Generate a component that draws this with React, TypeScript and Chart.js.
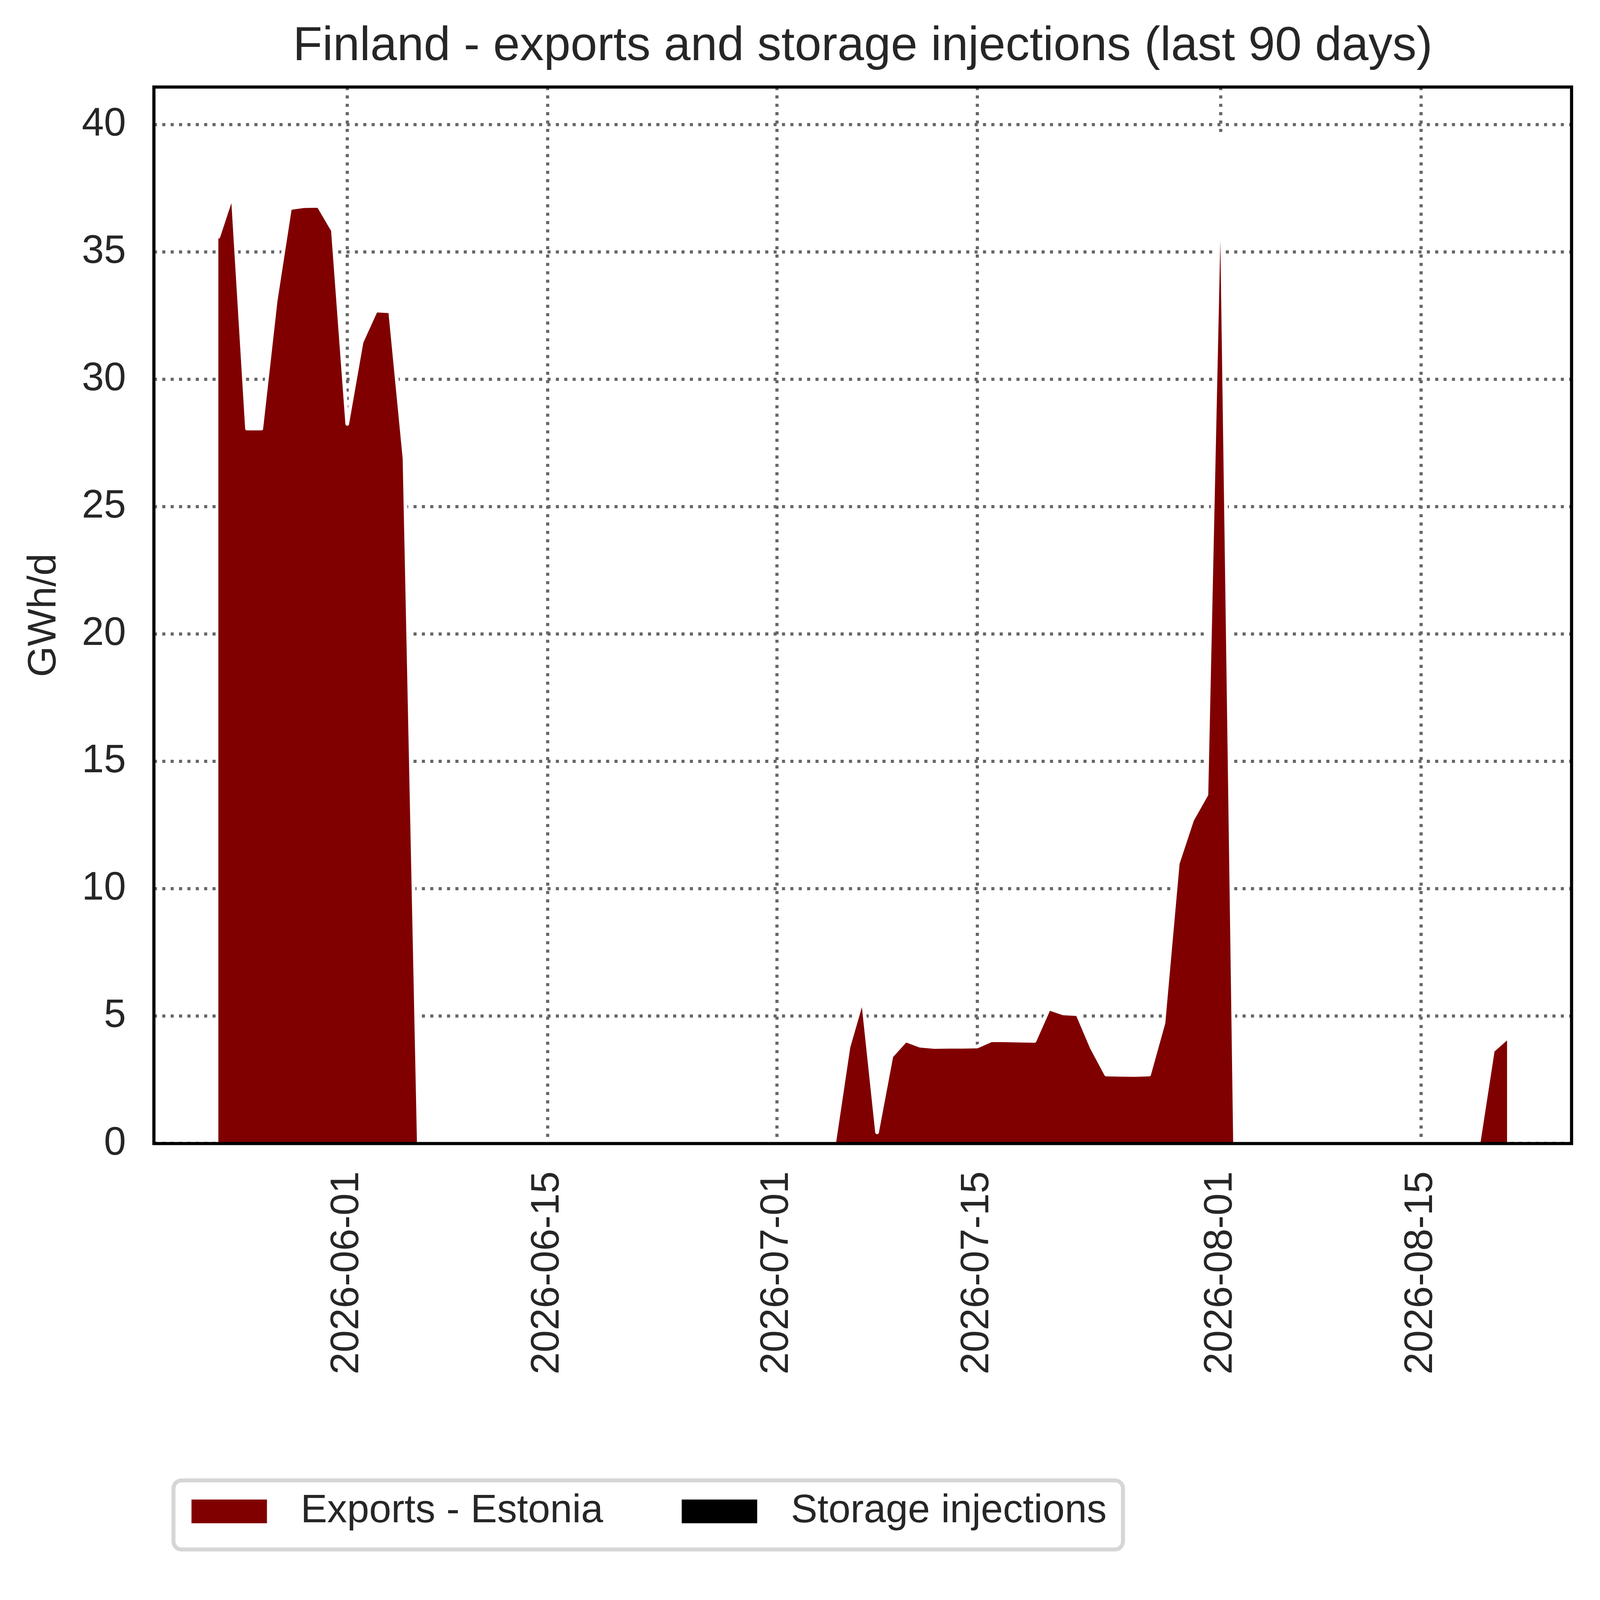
import React, { useEffect, useRef } from 'react';
import { Chart, registerables } from 'chart.js';

Chart.register(...registerables);

const DAY_MS = 86400000;

// first day of the 90-day window, one value per day from here on
const firstDate = '2026-05-23';

// Exports - Estonia, GWh/d
const exportsEstonia = [
  35.6, 37.3, 28.07, 28.07, 33.08, 36.72, 36.8, 36.81, 35.85, 28.25, 31.46, 32.7, 32.67, 26.9,
  0, 0, 0, 0, 0, 0, 0, 0, 0, 0, 0, 0, 0, 0, 0,
  0, 0, 0, 0, 0, 0, 0, 0, 0, 0, 0, 0, 0, 0, 0,
  3.78, 5.73, 0.44, 3.43, 4.05, 3.84, 3.79, 3.8, 3.8, 3.81, 4.06, 4.05, 4.04, 4.03,
  5.3, 5.11, 5.08, 3.76, 2.71, 2.7, 2.69, 2.71, 4.73, 11.0, 12.7, 13.7, 39.5,
  0, 0, 0, 0, 0, 0, 0, 0, 0, 0, 0, 0, 0, 0, 0, 0, 0, 0,
  3.65, 4.15,
];

// Storage injections, GWh/d
const storageInjections = [
  0, 0, 0, 0, 0, 0, 0, 0, 0, 0, 0, 0, 0, 0, 0, 0, 0, 0, 0, 0, 0, 0, 0,
  0, 0, 0, 0, 0, 0, 0, 0, 0, 0, 0, 0, 0, 0, 0, 0, 0, 0, 0, 0, 0, 0, 0,
  0, 0, 0, 0, 0, 0, 0, 0, 0, 0, 0, 0, 0, 0, 0, 0, 0, 0, 0, 0, 0, 0, 0,
  0, 0, 0, 0, 0, 0, 0, 0, 0, 0, 0, 0, 0, 0, 0, 0, 0, 0, 0, 0, 0, 0,
];

const xTickDates = ['2026-06-01', '2026-06-15', '2026-07-01', '2026-07-15', '2026-08-01', '2026-08-15'];
const yTicks = [0, 5, 10, 15, 20, 25, 30, 35, 40];

const TITLE = 'Finland - exports and storage injections (last 90 days)';
const TEXT = '#262626';
const FONT = "'Liberation Sans', Arial, Helvetica, sans-serif";

// design size of the reference figure
const FIG_W = 5598;
const FIG_H = 5521;

function dayNumber(iso: string) {
  const [y, m, d] = iso.split('-').map(Number);
  return Date.UTC(y, m - 1, d) / DAY_MS;
}

const start = dayNumber(firstDate);
const toPoints = (vals: number[]) => vals.map((v, i) => ({ x: start + i, y: v }));

const spanDays = exportsEstonia.length - 1;
const xMin = start - spanDays * 0.05;
const xMax = start + spanDays + spanDays * 0.05;
const yMax = Math.max(...exportsEstonia) * 1.05;

// matplotlib-like box around the plot
const framePlugin = (k: number) => ({
  id: 'frame',
  afterDatasetsDraw(chart: any) {
    const { ctx, chartArea: a } = chart;
    ctx.save();
    ctx.strokeStyle = '#000000';
    ctx.lineWidth = 11 * k;
    ctx.strokeRect(a.left, a.top, a.right - a.left, a.bottom - a.top);
    ctx.restore();
  },
});

// framed legend below the axes
const legendPlugin = (k: number) => ({
  id: 'framedLegend',
  afterDraw(chart: any) {
    const { ctx, chartArea: a } = chart;
    const left = a.left + 68.5 * k;
    const top = a.bottom + 1178.5 * k;
    const height = 241.7 * k;
    const patchW = 264 * k;
    const patchH = 83 * k;
    const patchTop = top + 67 * k;
    const textGap = 118 * k;
    const colGap = 275 * k;

    ctx.save();
    ctx.font = `${139 * k}px ${FONT}`;
    let x = left + 63 * k;
    const items = chart.data.datasets.map((ds: any) => {
      const w = ctx.measureText(ds.label).width;
      const item = { x, label: ds.label, color: ds.backgroundColor };
      x += patchW + textGap + w + colGap;
      return item;
    });
    const right = x - colGap + 57 * k;

    ctx.beginPath();
    ctx.roundRect(left, top, right - left, height, 28 * k);
    ctx.fillStyle = '#ffffff';
    ctx.fill();
    ctx.lineWidth = 14 * k;
    ctx.strokeStyle = '#d6d6d6';
    ctx.stroke();

    ctx.textBaseline = 'middle';
    ctx.textAlign = 'left';
    items.forEach((it: any) => {
      ctx.fillStyle = it.color;
      ctx.fillRect(it.x, patchTop, patchW, patchH);
      ctx.fillStyle = TEXT;
      ctx.fillText(it.label, it.x + patchW + textGap, patchTop + patchH / 2);
    });
    ctx.restore();
  },
});

const App: React.FC = () => {
  const canvasRef = useRef<HTMLCanvasElement | null>(null);
  const chartRef = useRef<Chart | null>(null);
  const k = Math.min(window.innerWidth / FIG_W, window.innerHeight / FIG_H);

  useEffect(() => {
    const ctx = canvasRef.current?.getContext('2d');
    if (!ctx) return;
    if (chartRef.current) chartRef.current.destroy();

    Chart.defaults.font.family = FONT;
    const fs = 139 * k;

    const grid = { color: '#666666', lineWidth: 11 * k, drawTicks: false };
    const border = { display: false, dash: [10.7 * k, 18.6 * k] };

    chartRef.current = new Chart(ctx, {
      type: 'line',
      data: {
        datasets: [
          {
            label: 'Exports - Estonia',
            data: toPoints(exportsEstonia),
            backgroundColor: '#800000',
            borderColor: '#ffffff',
            borderWidth: 13 * k,
            borderJoinStyle: 'round',
            borderCapStyle: 'round',
            fill: 'origin',
            pointRadius: 0,
            tension: 0,
          },
          {
            label: 'Storage injections',
            data: toPoints(storageInjections),
            backgroundColor: '#000000',
            borderWidth: 0,
            fill: 'origin',
            pointRadius: 0,
            tension: 0,
          },
        ],
      },
      options: {
        animation: false,
        responsive: false,
        events: [],
        layout: { padding: { left: 0, top: 0, right: 99.5 * k, bottom: 620.5 * k } },
        plugins: {
          legend: { display: false },
          tooltip: { enabled: false },
          title: {
            display: true,
            text: TITLE,
            fullSize: false,
            color: TEXT,
            font: { family: FONT, size: 168 * k, weight: 'normal', lineHeight: 1.2 },
            padding: { top: 62.7 * k, bottom: 40.2 * k },
          },
        },
        scales: {
          x: {
            type: 'linear',
            min: xMin,
            max: xMax,
            afterFit: (s: any) => { s.height = 900 * k; },
            afterBuildTicks: (s: any) => { s.ticks = xTickDates.map((d) => ({ value: dayNumber(d) })); },
            ticks: {
              autoSkip: false,
              minRotation: 90,
              maxRotation: 90,
              padding: 97 * k,
              color: TEXT,
              font: { family: FONT, size: fs },
              callback: (_v: any, i: number) => xTickDates[i],
            },
            grid,
            border,
          },
          y: {
            min: 0,
            max: yMax,
            afterFit: (s: any) => { s.width = 538.5 * k; },
            afterBuildTicks: (s: any) => { s.ticks = yTicks.map((v) => ({ value: v })); },
            ticks: {
              padding: 97.5 * k,
              color: TEXT,
              font: { family: FONT, size: fs },
              callback: (v: any) => String(v),
            },
            title: {
              display: true,
              text: 'GWh/d',
              color: TEXT,
              font: { family: FONT, size: fs, lineHeight: 1.2 },
              padding: { top: 71.7 * k, bottom: 0 },
            },
            grid,
            border,
          },
        },
      },
      plugins: [framePlugin(k), legendPlugin(k)],
    } as any);

    return () => {
      if (chartRef.current) {
        chartRef.current.destroy();
        chartRef.current = null;
      }
    };
  }, [k]);

  return (
    <div style={{ position: 'absolute', left: 0, top: 0, background: '#ffffff' }}>
      <canvas
        ref={canvasRef}
        width={Math.round(FIG_W * k)}
        height={Math.round(FIG_H * k)}
        style={{ display: 'block' }}
      />
    </div>
  );
};

export default App;
